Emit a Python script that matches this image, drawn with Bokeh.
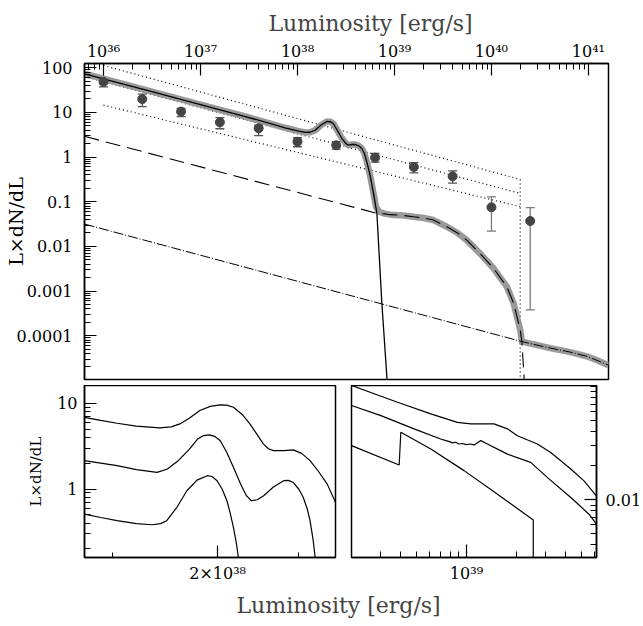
from bokeh.plotting import figure
from bokeh.models import Range1d, FixedTicker, CustomJSTickFormatter, ColumnDataSource, Whisker, TeeHead
from bokeh.layouts import column, row
from bokeh.embed import file_html
from bokeh.resources import INLINE

SERIF = "DejaVu Serif"

# ---------------- main panel data ----------------
# observed points: luminosity, value, lower and upper error
obs_lum = [1.0e36, 2.51e36, 6.31e36, 1.585e37, 3.98e37, 1.0e38, 2.51e38, 6.31e38, 1.585e39, 3.98e39, 1.0e40, 2.51e40]
obs_val = [48, 19.8, 10.4, 6.0, 4.4, 2.2, 1.83, 0.97, 0.60, 0.37, 0.075, 0.037]
obs_lo = [37, 13.4, 8.0, 4.3, 3.0, 1.7, 1.5, 0.77, 0.44, 0.26, 0.022, 0.00038]
obs_hi = [55, 25.6, 12.3, 7.6, 5.2, 2.7, 2.2, 1.2, 0.75, 0.49, 0.129, 0.074]

# total model (thick grey)
tot_lum = [6.37e35, 3.16e36, 1.0e37, 3.16e37, 7.46e37, 1.0e38, 1.20e38, 1.35e38, 1.52e38, 1.74e38,
           2.01e38, 2.19e38, 2.35e38, 2.57e38, 2.87e38, 3.16e38, 3.36e38, 3.63e38, 3.94e38, 4.27e38,
           4.61e38, 4.90e38, 5.19e38, 5.61e38, 6.08e38, 6.46e38, 6.93e38, 7.94e38, 9.04e38, 1.15e39,
           1.57e39, 2.0e39, 2.52e39, 3.47e39, 4.47e39, 5.57e39, 7.94e39, 1.05e40, 1.28e40, 1.44e40,
           1.69e40, 1.82e40, 1.98e40, 2.06e40, 2.82e40, 4.03e40, 6.31e40, 9.62e40, 1.26e41, 1.61e41]
tot_val = [73.1, 29.0, 14.9, 7.67, 4.52, 3.85, 3.55, 3.59, 3.98, 5.13,
           6.24, 6.17, 5.56, 3.98, 2.63, 2.0, 1.84, 1.91, 1.91, 1.78,
           1.55, 1.20, 0.776, 0.389, 0.153, 0.0759, 0.0596, 0.0543, 0.0513, 0.0501,
           0.0460, 0.0432, 0.0389, 0.0275, 0.0200, 0.0138, 0.00631, 0.00324, 0.00178, 0.00126,
           0.000537, 0.000282, 0.000135, 7.41e-5, 6.31e-5, 5.31e-5, 4.37e-5, 3.47e-5, 2.75e-5, 2.19e-5]

# component 1 (solid): bumps and steep cut-off
c1_lum = [6.37e35, 3.16e36, 1.0e37, 3.16e37, 7.46e37, 1.0e38, 1.20e38, 1.35e38, 1.52e38, 1.74e38,
          2.01e38, 2.19e38, 2.35e38, 2.57e38, 2.87e38, 3.16e38, 3.36e38, 3.63e38, 3.94e38, 4.27e38,
          4.61e38, 4.90e38, 5.19e38, 5.61e38, 6.08e38, 6.59e38, 7.41e38, 8.36e38, 8.6e38]
c1_val = [73.1, 29.0, 14.9, 7.67, 4.52, 3.85, 3.55, 3.59, 3.98, 5.13,
          6.24, 6.17, 5.56, 3.98, 2.63, 2.0, 1.84, 1.91, 1.91, 1.78,
          1.55, 1.20, 0.776, 0.389, 0.153, 0.055, 0.00054, 1.15e-5, 8e-6]

# component 2 (dashed)
c2_lum = [6.37e35, 6.59e38, 7.94e38, 9.04e38, 1.15e39, 1.57e39, 2.0e39, 2.52e39, 3.47e39, 4.47e39,
          5.57e39, 7.94e39, 1.05e40, 1.28e40, 1.44e40, 1.69e40, 1.82e40, 1.98e40, 2.06e40, 2.17e40, 2.19e40]
c2_val = [2.91, 0.055, 0.0535, 0.0513, 0.0501, 0.0460, 0.0432, 0.0389, 0.0275, 0.0200,
          0.0138, 0.00631, 0.00324, 0.00178, 0.00126, 0.000537, 0.000282, 0.000135, 7.41e-5, 1.15e-5, 8e-6]

# component 3 (dash-dot)
c3_lum = [6.37e35, 2.06e40, 2.82e40, 4.03e40, 6.31e40, 9.62e40, 1.26e41, 1.61e41]
c3_val = [0.0316, 7.41e-5, 6.31e-5, 5.31e-5, 4.37e-5, 3.47e-5, 2.75e-5, 2.19e-5]

# dotted envelope lines
up_lum = [1.0e36, 1.98e40, 1.98e40]
up_val = [112, 0.315, 8e-6]
mid_lum = [6.37e35, 1.98e40]
mid_val = [63.1, 0.153]
low_lum = [1.0e36, 1.98e40]
low_val = [14.5, 0.0776]

main_xticks = [1e36, 1e37, 1e38, 1e39, 1e40, 1e41]
main_yticks = [0.0001, 0.001, 0.01, 0.1, 1, 10, 100]

# ---------------- left inset ----------------
la_lum = [1.387e38, 1.45e38, 1.517e38, 1.60e38, 1.706e38, 1.76e38, 1.803e38, 1.85e38, 1.905e38, 1.96e38,
          2.013e38, 2.05e38, 2.089e38, 2.14e38, 2.186e38, 2.23e38, 2.268e38, 2.30e38, 2.332e38, 2.40e38,
          2.463e38, 2.52e38, 2.579e38, 2.64e38, 2.704e38, 2.766e38, 2.80e38]
la_val = [6.85, 6.3, 5.84, 5.4, 5.16, 5.3, 5.74, 6.7, 8.22, 9.2,
          9.58, 9.5, 8.98, 7.4, 5.74, 4.3, 3.36, 2.95, 2.80, 2.80,
          2.86, 2.6, 2.14, 1.6, 1.14, 0.70, 0.55]
lb_lum = [1.387e38, 1.45e38, 1.517e38, 1.60e38, 1.693e38, 1.74e38, 1.795e38, 1.85e38, 1.894e38, 1.925e38,
          1.955e38, 1.985e38, 2.015e38, 2.05e38, 2.089e38, 2.13e38, 2.165e38, 2.195e38, 2.23e38, 2.270e38,
          2.33e38, 2.398e38, 2.43e38, 2.463e38, 2.50e38, 2.531e38, 2.56e38, 2.579e38, 2.60e38, 2.616e38, 2.63e38]
lb_val = [2.14, 2.0, 1.87, 1.68, 1.56, 1.7, 2.14, 2.9, 3.84, 4.2,
          4.28, 4.1, 3.66, 2.7, 1.79, 1.15, 0.836, 0.73, 0.75, 0.836,
          1.05, 1.25, 1.26, 1.19, 1.0, 0.80, 0.58, 0.427, 0.26, 0.158, 0.1]
lc_lum = [1.387e38, 1.45e38, 1.517e38, 1.60e38, 1.670e38, 1.71e38, 1.739e38, 1.79e38, 1.838e38, 1.89e38,
          1.944e38, 1.97e38, 1.997e38, 2.025e38, 2.052e38, 2.07e38, 2.089e38, 2.105e38, 2.118e38, 2.13e38]
lc_val = [0.51, 0.465, 0.427, 0.395, 0.383, 0.395, 0.427, 0.62, 0.955, 1.27,
          1.43, 1.40, 1.25, 1.0, 0.73, 0.53, 0.356, 0.24, 0.158, 0.1]

# ---------------- right inset ----------------
ra_lum = [2.01e38, 3.82e38, 6.08e38, 8.81e38, 1.062e39, 1.469e39, 1.771e39, 2.036e39, 2.69e39,
          3.24e39, 4.29e39, 5.16e39, 6.14e39]
ra_val = [0.102, 0.0726, 0.0573, 0.0483, 0.0468, 0.0468, 0.0423, 0.0368, 0.0311, 0.0262, 0.0187, 0.0147, 0.0108]
rb_lum = [2.01e38, 3.03e38, 4.81e38, 6.98e38, 7.5e38, 7.9e38, 8.22e38, 8.6e38, 9.0e38, 9.46e38, 1.0e39,
          1.05e39, 1.112e39, 1.221e39, 1.34e39, 1.771e39, 2.45e39, 3.10e39, 4.29e39, 5.53e39, 6.14e39]
rb_val = [0.0679, 0.0553, 0.0423, 0.0344, 0.0333, 0.0326, 0.0318, 0.0322, 0.0311, 0.0314, 0.0307,
          0.0311, 0.0305, 0.0333, 0.0311, 0.0253, 0.0214, 0.0157, 0.0105, 0.00747, 0.0061]
rc_lum = [2.01e38, 3.91e38, 4.0e38, 6.08e38, 9.67e38, 1.542e39, 2.54e39, 2.54e39]
rc_val = [0.0301, 0.0203, 0.0394, 0.0281, 0.0181, 0.0112, 0.00665, 0.001]

SUP_JS = """
const sup = {'0':'\\u2070','1':'\\u00b9','2':'\\u00b2','3':'\\u00b3','4':'\\u2074',
             '5':'\\u2075','6':'\\u2076','7':'\\u2077','8':'\\u2078','9':'\\u2079'};
const e = Math.round(Math.log10(tick));
const m = tick / Math.pow(10, e);
const s = '10' + String(e).split('').map(c => sup[c]).join('');
if (Math.abs(m - 1) < 1e-6) { return s; }
return String(Math.round(m * 10) / 10) + '\\u00d7' + s;
"""
PLAIN_JS = "return tick.toString();"


def log_minors(lo, hi):
    return [m * 10.0 ** k for k in range(lo, hi) for m in range(2, 10)]


def style_axis(ax, fsize="16px", maj=12, mnr=6):
    ax.major_tick_in = maj
    ax.major_tick_out = 0
    ax.minor_tick_in = mnr
    ax.minor_tick_out = 0
    ax.axis_line_color = "black"
    ax.axis_line_width = 1.5
    ax.major_tick_line_width = 1.2
    ax.minor_tick_line_width = 1.0
    ax.major_label_text_font = SERIF
    ax.major_label_text_font_size = fsize
    ax.major_label_text_color = "black"
    ax.axis_label_text_font = SERIF
    ax.axis_label_text_font_style = "normal"
    ax.axis_label_text_color = "black"


def base_style(f):
    f.grid.visible = False
    f.outline_line_color = "black"
    f.outline_line_width = 1.5
    f.background_fill_color = "white"
    f.border_fill_color = "white"


# ---------------- main figure ----------------
p = figure(x_axis_type="log", y_axis_type="log",
           x_range=Range1d(6.37e35, 1.61e41), y_range=Range1d(1.05e-5, 124),
           frame_width=524, frame_height=316,
           min_border_left=84, min_border_right=20, min_border_top=63, min_border_bottom=6,
           x_axis_location="above", output_backend="svg", toolbar_location=None,
           title="Luminosity [erg/s]")
base_style(p)
p.title.align = "left"
p.title.offset = 184
p.title.text_font = SERIF
p.title.text_font_size = "22px"
p.title.text_font_style = "normal"
p.title.standoff = 5

style_axis(p.xaxis[0])
p.xaxis.ticker = FixedTicker(ticks=main_xticks, minor_ticks=log_minors(35, 41))
p.xaxis.formatter = CustomJSTickFormatter(code=SUP_JS)
p.xaxis.major_label_standoff = 3

style_axis(p.yaxis[0])
p.yaxis.ticker = FixedTicker(ticks=main_yticks, minor_ticks=log_minors(-5, 2))
p.yaxis.formatter = CustomJSTickFormatter(code=PLAIN_JS)
p.yaxis.major_label_standoff = 12
p.yaxis.axis_label = "L\u00d7dN/dL"
p.yaxis.axis_label_text_font_size = "19px"
p.yaxis.axis_label_standoff = -13

# dotted envelope
for xs, ys in ((up_lum, up_val), (mid_lum, mid_val), (low_lum, low_val)):
    p.line(xs, ys, line_color="black", line_width=1.2, line_dash="1 3")

p.line(tot_lum, tot_val, line_color="#9a9a9a", line_width=6.5, line_join="round")
p.line(c1_lum, c1_val, line_color="black", line_width=1.3)
p.line(c2_lum, c2_val, line_color="black", line_width=1.1, line_dash="15 7")
p.line(c3_lum, c3_val, line_color="black", line_width=1.0, line_dash="10 2 1 2")

# error bars: bright points darker, faint points lighter grey
src_a = ColumnDataSource(dict(x=obs_lum[:10], y=obs_val[:10], lo=obs_lo[:10], hi=obs_hi[:10]))
src_b = ColumnDataSource(dict(x=obs_lum[10:], y=obs_val[10:], lo=obs_lo[10:], hi=obs_hi[10:]))
for s, col in ((src_a, "#555555"), (src_b, "#7a7a7a")):
    p.add_layout(Whisker(base="x", lower="lo", upper="hi", source=s,
                         line_color=col, line_width=1.3,
                         upper_head=TeeHead(size=9, line_color=col, line_width=1.3),
                         lower_head=TeeHead(size=9, line_color=col, line_width=1.3)))
    p.scatter("x", "y", source=s, size=9, color="#444444")

# ---------------- left inset ----------------
li = figure(x_axis_type="log", y_axis_type="log",
            x_range=Range1d(1.387e38, 2.766e38), y_range=Range1d(0.159, 16.1),
            frame_width=251, frame_height=172,
            min_border_left=84, min_border_right=8, min_border_top=0, min_border_bottom=30,
            output_backend="svg", toolbar_location=None)
base_style(li)
style_axis(li.xaxis[0], maj=12, mnr=5)
li.xaxis.ticker = FixedTicker(ticks=[2e38], minor_ticks=[1.5e38, 2.5e38])
li.xaxis.formatter = CustomJSTickFormatter(code=SUP_JS)
li.xaxis.major_label_standoff = 6
style_axis(li.yaxis[0], maj=12, mnr=6)
li.yaxis.ticker = FixedTicker(ticks=[1, 10], minor_ticks=log_minors(-1, 2))
li.yaxis.formatter = CustomJSTickFormatter(code=PLAIN_JS)
li.yaxis.major_label_standoff = 7
li.yaxis.axis_label = "L\u00d7dN/dL"
li.yaxis.axis_label_text_font_size = "15px"
li.yaxis.axis_label_standoff = 9
for xs, ys in ((la_lum, la_val), (lb_lum, lb_val), (lc_lum, lc_val)):
    li.line(xs, ys, line_color="black", line_width=1.2)

# ---------------- right inset ----------------
ri = figure(x_axis_type="log", y_axis_type="log",
            x_range=Range1d(2.01e38, 6.14e39), y_range=Range1d(0.0031, 0.102),
            frame_width=245, frame_height=172,
            min_border_left=8, min_border_right=44, min_border_top=0, min_border_bottom=30,
            y_axis_location="right", output_backend="svg", toolbar_location=None)
base_style(ri)
style_axis(ri.xaxis[0], maj=13, mnr=6)
ri.xaxis.ticker = FixedTicker(ticks=[1e39], minor_ticks=log_minors(38, 40))
ri.xaxis.formatter = CustomJSTickFormatter(code=SUP_JS)
ri.xaxis.major_label_standoff = 6
style_axis(ri.yaxis[0], maj=12, mnr=6)
ri.yaxis.ticker = FixedTicker(ticks=[0.01], minor_ticks=log_minors(-3, -1) + [0.1])
ri.yaxis.formatter = CustomJSTickFormatter(code=PLAIN_JS)
ri.yaxis.major_label_standoff = 9
for xs, ys in ((ra_lum, ra_val), (rb_lum, rb_val), (rc_lum, rc_val)):
    ri.line(xs, ys, line_color="black", line_width=1.2)

# ---------------- bottom axis title ----------------
lab = figure(frame_width=512, frame_height=1,
             min_border_left=84, min_border_right=39, min_border_top=31, min_border_bottom=0,
             x_axis_location=None, y_axis_location=None,
             output_backend="svg", toolbar_location=None, title="Luminosity [erg/s]")
lab.grid.visible = False
lab.outline_line_color = None
lab.background_fill_color = None
lab.border_fill_color = "white"
lab.title.align = "left"
lab.title.offset = 152
lab.title.text_font = SERIF
lab.title.text_font_size = "22px"
lab.title.text_font_style = "normal"
lab.title.standoff = 2

layout = column(p, row(li, ri), lab)
open("out.html", "w", encoding="utf-8").write(file_html(layout, INLINE))
